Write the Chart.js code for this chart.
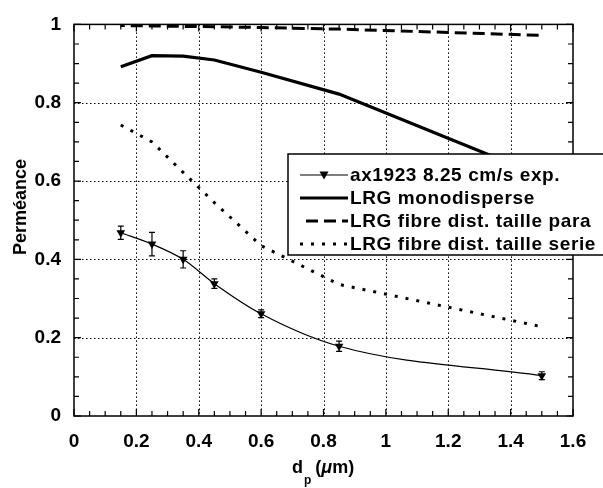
<!DOCTYPE html>
<html>
<head>
<meta charset="utf-8">
<script src="https://cdn.jsdelivr.net/npm/chart.js@4.4.1/dist/chart.umd.min.js"></script>
<style>
html,body{margin:0;padding:0;background:#fff;}
#wrap{width:603px;height:488px;position:relative;}
</style>
</head>
<body>
<div id="wrap"><canvas id="c" width="603" height="488"></canvas></div>
<script>
// ---- data ----
const dp = [0.15, 0.25, 0.35, 0.45, 0.6, 0.85, 1.5];
const expVals = [0.468, 0.439, 0.400, 0.338, 0.261, 0.178, 0.103];
const expErr = [0.017, 0.030, 0.022, 0.012, 0.010, 0.013, 0.010];
const monoVals = [0.892, 0.920, 0.919, 0.909, 0.878, 0.822, 0.612];
const paraVals = [0.997, 0.996, 0.995, 0.994, 0.992, 0.988, 0.972];
const serieVals = [0.743, 0.700, 0.622, 0.545, 0.435, 0.336, 0.228];
const seriesLabels = ['ax1923 8.25 cm/s exp.', 'LRG monodisperse', 'LRG fibre dist. taille para', 'LRG fibre dist. taille serie'];
const xTicks = [0, 0.2, 0.4, 0.6, 0.8, 1, 1.2, 1.4, 1.6];
const yTicks = [0, 0.2, 0.4, 0.6, 0.8, 1];
const yTitle = 'Perméance';

const FONT = '"Liberation Sans", Arial, Helvetica, sans-serif';
const toPts = (xs, ys) => xs.map((x, i) => ({x: x, y: ys[i]}));

const decor = {
  id: 'decor',
  beforeDatasetsDraw(chart) {
    const {ctx, chartArea: a, scales: {x, y}} = chart;
    ctx.save();
    // dotted grid
    ctx.strokeStyle = '#000';
    ctx.lineWidth = 1;
    ctx.setLineDash([1.5, 2.5]);
    xTicks.slice(1, -1).forEach(v => {
      const px = Math.round(x.getPixelForValue(v)) + 0.5;
      ctx.beginPath(); ctx.moveTo(px, a.top); ctx.lineTo(px, a.bottom); ctx.stroke();
    });
    yTicks.slice(1, -1).forEach(v => {
      const py = Math.round(y.getPixelForValue(v)) + 0.5;
      ctx.beginPath(); ctx.moveTo(a.left, py); ctx.lineTo(a.right, py); ctx.stroke();
    });
    ctx.setLineDash([]);
    // minor + major ticks on all sides
    ctx.lineWidth = 1.2;
    for (let i = 0; i <= 32; i++) {
      const v = i * 0.05;
      const px = x.getPixelForValue(v);
      const L = (i % 4 === 0) ? 7 : 5;
      ctx.beginPath();
      ctx.moveTo(px, a.bottom); ctx.lineTo(px, a.bottom - L);
      ctx.moveTo(px, a.top); ctx.lineTo(px, a.top + L);
      ctx.stroke();
    }
    for (let i = 0; i <= 20; i++) {
      const v = i * 0.05;
      const py = y.getPixelForValue(v);
      const L = (i % 4 === 0) ? 7 : 5;
      ctx.beginPath();
      ctx.moveTo(a.left, py); ctx.lineTo(a.left + L, py);
      ctx.moveTo(a.right, py); ctx.lineTo(a.right - L, py);
      ctx.stroke();
    }
    // frame
    ctx.lineWidth = 1.5;
    ctx.strokeRect(a.left, a.top, a.right - a.left, a.bottom - a.top);
    ctx.restore();
  },
  afterDatasetsDraw(chart) {
    const {ctx, chartArea: a, scales: {x, y}} = chart;
    ctx.save();
    // error bars
    ctx.strokeStyle = '#000';
    ctx.lineWidth = 1.2;
    dp.forEach((d, i) => {
      const px = x.getPixelForValue(d);
      const y1 = y.getPixelForValue(expVals[i] + expErr[i]);
      const y2 = y.getPixelForValue(expVals[i] - expErr[i]);
      ctx.beginPath();
      ctx.moveTo(px, y1); ctx.lineTo(px, y2);
      ctx.moveTo(px - 3, y1); ctx.lineTo(px + 3, y1);
      ctx.moveTo(px - 3, y2); ctx.lineTo(px + 3, y2);
      ctx.stroke();
    });
    // legend
    const bx = 288, by = 154, bw = 330, bh = 101;
    ctx.fillStyle = '#fff';
    ctx.fillRect(bx, by, bw, bh);
    ctx.lineWidth = 1.5;
    ctx.strokeRect(bx, by, bw, bh);
    const rows = [175, 198, 221, 244];
    const sx0 = 300, sx1 = 348;
    ctx.font = 'bold 19px ' + FONT;
    try { ctx.letterSpacing = '0.6px'; } catch (e) {}
    ctx.textBaseline = 'middle';
    ctx.textAlign = 'left';
    ctx.fillStyle = '#000';
    rows.forEach((ry, i) => {
      ctx.beginPath();
      if (i === 0) {
        ctx.lineWidth = 1.2; ctx.setLineDash([]);
        ctx.moveTo(sx0, ry); ctx.lineTo(sx1, ry); ctx.stroke();
        const cx = (sx0 + sx1) / 2;
        ctx.beginPath();
        ctx.moveTo(cx - 4.5, ry - 3.5); ctx.lineTo(cx + 4.5, ry - 3.5); ctx.lineTo(cx, ry + 4.5); ctx.closePath();
        ctx.fill();
      } else if (i === 1) {
        ctx.lineWidth = 3; ctx.setLineDash([]);
        ctx.moveTo(sx0, ry); ctx.lineTo(sx1, ry); ctx.stroke();
      } else if (i === 2) {
        ctx.lineWidth = 3; ctx.setLineDash([12, 6]);
        ctx.moveTo(sx1 - 42, ry); ctx.lineTo(sx1, ry); ctx.stroke();
      } else {
        ctx.lineWidth = 3; ctx.setLineDash([3, 8]);
        ctx.moveTo(sx0, ry); ctx.lineTo(sx1 + 2, ry); ctx.stroke();
      }
      ctx.setLineDash([]);
      ctx.fillText(seriesLabels[i], 350, ry + 1);
    });
    ctx.restore();
  },
  afterDraw(chart) {
    const {ctx} = chart;
    ctx.save();
    ctx.fillStyle = '#000';
    // y title
    ctx.font = 'bold 18px ' + FONT;
    ctx.textAlign = 'center';
    ctx.textBaseline = 'middle';
    ctx.translate(21, 207);
    ctx.rotate(-Math.PI / 2);
    ctx.fillText(yTitle, 0, 0);
    ctx.restore();
    // x title: d_p (μm)
    ctx.save();
    ctx.fillStyle = '#000';
    ctx.textBaseline = 'alphabetic';
    ctx.textAlign = 'left';
    let cx = 292;
    const base = 473;
    ctx.font = 'bold 18px ' + FONT;
    ctx.fillText('d', cx, base); cx += ctx.measureText('d').width + 1;
    ctx.font = 'bold 12px ' + FONT;
    ctx.fillText('p', cx, base + 11); cx += ctx.measureText('p').width + 4;
    ctx.font = 'bold 18px ' + FONT;
    ctx.fillText('(', cx, base); cx += ctx.measureText('(').width;
    ctx.font = 'italic bold 18px ' + FONT;
    ctx.fillText('μ', cx, base); cx += ctx.measureText('μ').width;
    ctx.font = 'bold 18px ' + FONT;
    ctx.fillText('m)', cx, base);
    ctx.restore();
  }
};

new Chart(document.getElementById('c'), {
  type: 'line',
  data: {
    datasets: [
      {
        label: seriesLabels[0], data: toPts(dp, expVals),
        borderColor: '#000', backgroundColor: '#000', borderWidth: 1.2,
        pointStyle: 'triangle', rotation: 180, pointRadius: 5, pointBorderWidth: 0,
        cubicInterpolationMode: 'monotone', fill: false
      },
      {
        label: seriesLabels[1], data: toPts(dp, monoVals),
        borderColor: '#000', borderWidth: 3.2, pointRadius: 0, tension: 0, fill: false
      },
      {
        label: seriesLabels[2], data: toPts(dp, paraVals),
        borderColor: '#000', borderWidth: 3, borderDash: [12, 6], borderDashOffset: 8, pointRadius: 0, tension: 0, fill: false
      },
      {
        label: seriesLabels[3], data: toPts(dp, serieVals),
        borderColor: '#000', borderWidth: 3, borderDash: [3, 8], pointRadius: 0, tension: 0, fill: false
      }
    ]
  },
  options: {
    responsive: false,
    animation: false,
    layout: {padding: {left: 0, top: 14, right: 30, bottom: 0}},
    plugins: {legend: {display: false}, tooltip: {enabled: false}},
    scales: {
      x: {
        type: 'linear', min: 0, max: 1.6,
        afterBuildTicks: s => { s.ticks = xTicks.map(v => ({value: v})); },
        afterFit: s => { s.height = 72; },
        grid: {display: false, drawTicks: false},
        border: {display: false},
        ticks: {
          color: '#000', padding: 14, maxRotation: 0, autoSkip: false,
          font: {family: FONT, size: 19, weight: 'bold'},
          callback: v => String(+(+v).toFixed(1))
        }
      },
      y: {
        type: 'linear', min: 0, max: 1,
        afterBuildTicks: s => { s.ticks = yTicks.map(v => ({value: v})); },
        afterFit: s => { s.width = 74; },
        grid: {display: false, drawTicks: false},
        border: {display: false},
        ticks: {
          color: '#000', padding: 13, autoSkip: false,
          font: {family: FONT, size: 19, weight: 'bold'},
          callback: v => String(+(+v).toFixed(1))
        }
      }
    }
  },
  plugins: [decor]
});
</script>
</body>
</html>
